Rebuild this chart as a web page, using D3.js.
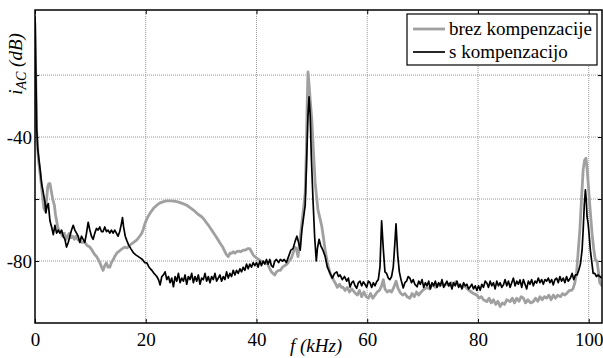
<!DOCTYPE html>
<html>
<head>
<meta charset="utf-8">
<script src="https://cdn.jsdelivr.net/npm/d3@7"></script>
<style>
  html, body { margin: 0; padding: 0; background: #fff; }
  svg { display: block; }
</style>
</head>
<body>
<div id="chart"></div>
<script>
// x ticks (kHz) and y grid (dB), only some y ticks carry a label
const xTicks = [0, 20, 40, 60, 80, 100];
const yGrid = [-20, -40, -60, -80];
const yLabels = [-40, -80];
const legendNames = ["brez kompenzacije", "s kompenzacijo"];

// brez kompenzacije  [f kHz, dB]
const brezData = [
  [0,-3],[0.15,-22],[0.3,-38],[0.6,-47],[1.0,-53],[1.3,-58],[1.6,-63],[1.9,-64],[2.1,-60],[2.3,-56],
  [2.5,-55],[2.7,-55],[2.9,-57],[3.2,-60],[3.5,-62],[3.7,-65],[3.9,-67],[4.1,-69],[4.4,-70.5],[4.7,-71],
  [5.0,-72],[5.3,-71],[5.6,-73],[5.9,-72],[6.2,-71],[6.5,-72.5],[6.8,-72],[7.1,-73],[7.4,-72],[7.7,-73],
  [8.1,-73.5],[8.5,-74],[9.0,-74],[9.4,-75],[9.9,-75.5],[10.3,-76.5],[10.8,-78],[11.1,-78.5],[11.4,-79.4],[11.7,-80.5],
  [12.0,-81.8],[12.3,-83],[12.6,-81.5],[12.9,-80.6],[13.2,-82],[13.5,-82],[13.8,-80.5],[14.1,-79.7],[14.4,-78.5],[14.8,-77.4],
  [15.1,-77],[15.4,-76.5],[15.8,-76],[16.2,-75.5],[16.6,-75.8],[17.2,-74.8],[17.8,-74],[18.4,-73.2],[18.9,-72],[19.3,-71],
  [19.6,-69.5],[19.9,-67.7],[20.3,-66],[20.8,-64.5],[21.4,-63],[22.0,-62],[22.5,-61.3],[23.1,-60.9],[23.7,-60.6],[24.4,-60.6],
  [25.1,-60.7],[25.8,-60.9],[26.6,-61.4],[27.4,-62],[28.2,-63],[28.9,-64],[29.5,-65],[30.1,-65.7],[30.7,-67],[31.3,-68.4],
  [31.9,-70],[32.5,-71.6],[33.0,-73],[33.4,-74.2],[33.9,-75.5],[34.3,-77],[34.6,-78],[34.9,-78.6],[35.2,-77.5],[35.5,-77.5],
  [35.8,-77],[36.1,-77.5],[36.4,-77],[36.8,-76.8],[37.2,-77],[37.6,-76.5],[38.0,-76.5],[38.4,-76],[38.8,-76],[39.1,-77],
  [39.4,-78],[39.7,-78.6],[40.0,-79],[40.4,-79.5],[40.8,-80],[41.2,-80.3],[41.6,-80.5],[42.0,-81],[42.4,-82.5],[42.7,-83.5],
  [43.0,-84],[43.3,-84.5],[43.6,-83.5],[44.0,-83],[44.3,-83],[44.7,-82],[45.1,-81.5],[45.5,-81],[45.9,-80],[46.3,-79],
  [46.6,-77.5],[46.9,-75.5],[47.2,-76],[47.5,-78.6],[47.8,-74],[48.2,-67.7],[48.5,-63],[48.8,-58],[49.0,-45],[49.15,-30],
  [49.3,-19],[49.45,-22],[49.7,-28],[50.0,-34.5],[50.3,-45],[50.6,-54.8],[50.9,-60],[51.1,-63.5],[51.5,-66.5],[51.8,-68.9],
  [52.1,-72.5],[52.4,-76.5],[52.8,-80.5],[53.3,-84],[53.7,-85.5],[54.2,-87],[54.6,-88.5],[55.0,-87.5],[55.3,-88.5],[55.6,-88.4],
  [56.0,-89.5],[56.4,-88.5],[56.8,-90],[57.2,-89],[57.8,-90.3],[58.2,-91],[58.6,-89.5],[59.0,-91.5],[59.4,-90],[59.8,-91.5],
  [60.2,-92],[60.6,-90.5],[61.0,-92],[61.4,-91],[61.8,-90],[62.2,-89.5],[62.6,-88],[62.9,-86],[63.2,-89],[63.6,-90],
  [64.0,-89.5],[64.4,-90],[64.8,-88.5],[65.2,-86.5],[65.6,-89],[66.0,-90.3],[66.4,-91],[66.8,-90.5],[67.2,-91.5],[67.7,-92],
  [68.1,-90.5],[68.5,-91.5],[68.9,-90],[69.3,-91],[69.6,-90.3],[70.0,-89.5],[70.4,-89],[70.8,-88.5],[71.2,-89],[71.6,-88],
  [71.9,-87.7],[72.3,-88.5],[72.7,-87.5],[73.1,-88],[73.5,-87],[73.9,-88],[74.4,-87.1],[74.8,-88],[75.2,-87],[75.6,-87.5],
  [76.0,-86.7],[76.4,-87.5],[76.8,-88],[77.2,-88.5],[77.6,-88],[78.0,-88.8],[78.4,-89.5],[78.8,-90],[79.2,-90.5],[79.8,-91],
  [80.2,-92],[80.6,-91.5],[81.0,-92.5],[81.6,-93.1],[82.0,-92],[82.4,-93.5],[82.8,-92.5],[83.2,-94],[83.6,-93],[84.0,-94.7],
  [84.4,-93.5],[84.8,-94],[85.2,-92.5],[85.8,-93.1],[86.2,-92],[86.6,-93.5],[87.0,-92],[87.4,-93],[87.8,-91.5],[88.2,-92],
  [88.6,-93.5],[89.0,-92.5],[89.5,-93.5],[90.0,-93.1],[90.4,-92],[90.8,-93],[91.2,-91.5],[91.6,-92.5],[92.0,-91.5],[92.4,-92],
  [92.8,-91],[93.2,-92.5],[93.6,-91],[94.0,-92],[94.4,-91],[94.9,-91.5],[95.3,-90.5],[95.7,-91],[96.1,-90.3],[96.5,-89.5],
  [96.9,-89.5],[97.2,-88.8],[97.5,-87],[97.8,-84],[98.1,-77],[98.4,-70],[98.7,-60],[99.0,-50.6],[99.25,-47.5],[99.5,-46.8],
  [99.7,-50],[99.9,-54.8],[100.2,-62],[100.6,-71],[100.9,-76],[101.2,-79.7],[101.5,-80],[101.8,-84],[102.0,-87],[102.4,-88]
];

// s kompenzacijo  [f kHz, dB]
const sData = [
  [0,-1],[0.15,-18],[0.3,-37],[0.5,-44],[0.7,-47],[0.9,-50],[1.2,-55],[1.5,-58],[1.8,-61],[1.95,-64.5],
  [2.2,-62],[2.4,-61.5],[2.7,-67],[3.0,-69],[3.3,-71.5],[3.6,-68.5],[3.9,-71],[4.2,-70],[4.5,-71],[4.8,-70],
  [5.1,-72],[5.4,-73],[5.7,-75.5],[6.0,-74],[6.3,-72],[6.6,-70],[6.9,-68.5],[7.2,-70],[7.5,-71],[7.8,-72],
  [8.1,-74],[8.4,-72],[8.7,-73],[9.0,-74],[9.3,-71],[9.6,-67.5],[9.9,-70],[10.2,-72],[10.5,-73],[10.8,-71],
  [11.1,-69.5],[11.4,-70],[11.7,-69],[12.0,-70.5],[12.3,-70.5],[12.6,-69],[12.9,-70.5],[13.2,-70],[13.5,-71],[13.8,-70],
  [14.1,-71],[14.4,-70],[14.7,-71],[15.0,-72],[15.3,-70.5],[15.6,-68],[15.8,-66],[16.0,-69],[16.3,-72],[16.6,-73.5],
  [16.9,-74.8],[17.3,-76],[17.8,-77.4],[18.2,-78],[18.6,-78.5],[19.0,-79],[19.4,-79.5],[19.8,-80.5],[20.2,-80.6],[20.6,-82],
  [21.1,-83],[21.5,-84],[22.0,-85],[22.3,-86],[22.6,-87.7],[22.9,-85],[23.2,-84.5],[23.5,-83.5],[23.8,-86],[24.1,-85],
  [24.4,-87],[24.7,-85.5],[25.0,-88.3],[25.3,-85],[25.6,-86.5],[25.9,-84],[26.2,-87],[26.5,-85.5],[26.8,-86.5],[27.1,-84.5],
  [27.4,-87.5],[27.7,-85],[28.0,-86],[28.3,-84],[28.6,-87],[28.9,-85],[29.2,-86.5],[29.5,-84.5],[29.8,-87.5],[30.1,-85.5],
  [30.4,-86],[30.7,-84],[31.0,-86.5],[31.3,-85],[31.6,-87],[31.9,-85],[32.2,-86],[32.5,-84],[32.8,-86.5],[33.1,-85.5],
  [33.4,-84.5],[33.7,-86.5],[34.0,-85],[34.3,-86],[34.6,-83.5],[34.9,-85.5],[35.2,-84],[35.5,-85],[35.8,-83],[36.1,-84.5],
  [36.4,-83],[36.7,-84],[37.0,-82.5],[37.3,-83.5],[37.6,-82],[37.9,-83],[38.2,-81],[38.5,-82.5],[38.8,-81],[39.1,-82],
  [39.4,-80.5],[39.7,-81.5],[40.0,-80.5],[40.3,-82],[40.6,-80],[40.9,-81.5],[41.2,-80],[41.5,-81],[41.8,-79.5],[42.1,-81],
  [42.4,-79.5],[42.7,-81.5],[43.0,-82],[43.3,-80],[43.6,-79.5],[44.0,-80.5],[44.3,-79.5],[44.7,-80],[45.0,-79.5],[45.4,-80.5],
  [45.8,-78.5],[46.2,-76.5],[46.6,-76],[47.0,-73.5],[47.3,-72],[47.6,-74],[47.9,-76.5],[48.2,-70],[48.5,-66],[48.8,-62],
  [49.1,-45],[49.3,-33],[49.5,-27],[49.7,-33],[49.9,-46],[50.2,-60],[50.5,-72],[50.8,-80],[51.0,-76],[51.3,-73],
  [51.6,-75],[52.0,-76.5],[52.4,-78.5],[52.8,-82],[53.3,-84],[53.7,-85.5],[54.1,-84],[54.5,-83.5],[54.8,-85],[55.1,-84.5],
  [55.5,-86],[55.9,-85],[56.3,-86.5],[56.6,-85.5],[56.9,-88.4],[57.2,-87],[57.5,-86.5],[57.8,-88],[58.1,-88.8],[58.4,-87],
  [58.7,-86.5],[59.0,-88],[59.3,-86.7],[59.6,-87.5],[59.9,-88.5],[60.2,-86.5],[60.5,-87],[60.8,-88.5],[61.1,-87],[61.4,-88],
  [61.7,-86.7],[62.0,-86],[62.3,-82],[62.6,-67],[62.9,-76],[63.2,-83.5],[63.5,-84],[63.8,-85.5],[64.1,-86],[64.4,-85],
  [64.7,-82],[65.0,-74],[65.2,-68],[65.5,-78],[65.8,-83.5],[66.1,-86],[66.5,-88.7],[66.8,-87],[67.1,-86.5],[67.4,-85],
  [67.7,-85.5],[68.0,-87],[68.3,-86],[68.6,-87.5],[69.0,-88.3],[69.3,-86.5],[69.6,-87.5],[69.9,-86],[70.2,-88.5],[70.5,-87],
  [70.8,-88],[71.1,-86.5],[71.4,-89],[71.7,-87],[72.0,-88],[72.3,-86.5],[72.6,-88.5],[72.9,-87],[73.2,-88],[73.5,-86],
  [73.8,-88.5],[74.1,-87.5],[74.4,-86.5],[74.7,-88],[75.0,-87],[75.3,-89],[75.6,-87],[75.9,-88],[76.2,-86.5],[76.5,-88.5],
  [76.8,-87.5],[77.1,-89],[77.4,-87],[77.7,-88],[78.0,-87.5],[78.3,-89],[78.6,-88.3],[78.9,-87.5],[79.2,-89],[79.5,-88],
  [79.8,-89.5],[80.1,-88],[80.4,-89.4],[80.7,-87.5],[81.0,-88.5],[81.3,-86.5],[81.6,-87.1],[81.9,-88.5],[82.2,-86.5],[82.5,-88],
  [82.8,-87],[83.1,-89],[83.4,-86.5],[83.7,-88],[84.0,-87],[84.3,-88.5],[84.6,-87.7],[84.9,-86],[85.2,-88],[85.5,-86.5],
  [85.8,-88.5],[86.1,-87],[86.4,-85.5],[86.7,-88],[87.0,-86.5],[87.3,-87.5],[87.6,-86.1],[87.9,-88.5],[88.2,-86],[88.5,-87.5],
  [88.8,-89],[89.1,-86.5],[89.4,-87.5],[89.7,-86],[90.0,-88],[90.3,-86.5],[90.6,-87.1],[90.9,-85.5],[91.2,-87],[91.5,-86],
  [91.8,-87.5],[92.1,-86],[92.4,-86.5],[92.7,-85.5],[93.0,-87],[93.3,-86],[93.6,-87.7],[93.9,-86],[94.2,-85.5],[94.5,-87],
  [94.8,-85],[95.1,-86.5],[95.4,-85.5],[95.7,-87],[96.0,-85],[96.3,-86.5],[96.7,-85.5],[97.0,-84],[97.3,-86],[97.6,-84.5],
  [97.9,-84.5],[98.2,-83],[98.5,-81],[98.8,-76.5],[99.0,-70],[99.2,-62],[99.4,-57],[99.55,-60],[99.7,-65.7],[99.9,-68],
  [100.1,-72],[100.3,-76.5],[100.6,-81],[100.8,-84],[101.1,-84],[101.4,-85],[101.7,-84.5],[102.0,-85],[102.4,-85.5]
];

const W = 603, H = 358;
const margin = {top: 10, right: 1, bottom: 35, left: 35};
const width = W - margin.left - margin.right,
      height = H - margin.top - margin.bottom;
const serif = "'Liberation Serif'";

const svg = d3.select("#chart").append("svg")
  .attr("width", W).attr("height", H);
const g = svg.append("g")
  .attr("transform", `translate(${margin.left},${margin.top})`);

const x = d3.scaleLinear().domain([0, 102.4]).range([0, width]);
const y = d3.scaleLinear().domain([-100, 1]).range([height, 0]);

// grid
g.append("g").selectAll("line").data(xTicks.filter(d => d > 0)).join("line")
  .attr("x1", d => x(d)).attr("x2", d => x(d))
  .attr("y1", 0).attr("y2", height)
  .attr("stroke", "#999").attr("stroke-width", 1).attr("stroke-dasharray", "1,1");
g.append("g").selectAll("line").data(yGrid).join("line")
  .attr("y1", d => y(d)).attr("y2", d => y(d))
  .attr("x1", 0).attr("x2", width)
  .attr("stroke", "#999").attr("stroke-width", 1).attr("stroke-dasharray", "1,1");

// axes: ticks point inward, frame drawn separately
const xb = g.append("g").attr("transform", `translate(0,${height})`)
  .call(d3.axisBottom(x).tickValues(xTicks).tickSizeInner(-4).tickSizeOuter(0).tickPadding(10));
const xt = g.append("g")
  .call(d3.axisTop(x).tickValues(xTicks).tickSizeInner(-4).tickSizeOuter(0).tickFormat(""));
const yl = g.append("g")
  .call(d3.axisLeft(y).tickValues(yGrid).tickSizeInner(-4).tickSizeOuter(0)
    .tickFormat(d => yLabels.includes(d) ? String(d) : "").tickPadding(3));
const yr = g.append("g").attr("transform", `translate(${width},0)`)
  .call(d3.axisRight(y).tickValues(yGrid).tickSizeInner(-4).tickSizeOuter(0).tickFormat(""));
[xb, xt, yl, yr].forEach(a => {
  a.select(".domain").remove();
  a.selectAll(".tick line").attr("stroke", "#000");
  a.selectAll("text").style("font-family", serif).attr("font-size", 19).attr("fill", "#000");
});

// lines
g.append("clipPath").attr("id", "clip").append("rect")
  .attr("width", width).attr("height", height);
const line = d3.line().x(d => x(d[0])).y(d => y(d[1]));
const plot = g.append("g").attr("clip-path", "url(#clip)");
plot.append("path").datum(brezData).attr("d", line)
  .attr("fill", "none").attr("stroke", "#a0a0a0").attr("stroke-width", 2.8).attr("stroke-linejoin", "round");
plot.append("path").datum(sData).attr("d", line)
  .attr("fill", "none").attr("stroke", "#000").attr("stroke-width", 1.7).attr("stroke-linejoin", "round");

// frame
g.append("rect").attr("width", width).attr("height", height)
  .attr("fill", "none").attr("stroke", "#000").attr("stroke-width", 1.5);

// legend
const lg = svg.append("g").attr("transform", "translate(407,14)");
lg.append("rect").attr("width", 190).attr("height", 51)
  .attr("fill", "#fff").attr("stroke", "#000").attr("stroke-width", 1.2);
const legColors = ["#a0a0a0", "#000"];
const legWidths = [2.8, 1.7];
legendNames.forEach((name, i) => {
  const yy = 15 + i * 23;
  lg.append("line").attr("x1", 6).attr("x2", 38).attr("y1", yy).attr("y2", yy)
    .attr("stroke", legColors[i]).attr("stroke-width", legWidths[i]);
  lg.append("text").attr("x", 42).attr("y", yy + 6)
    .style("font-family", serif).attr("font-size", 19).text(name);
});

// axis titles
svg.append("text").attr("x", 316).attr("y", 352).attr("text-anchor", "middle")
  .style("font-family", serif).attr("font-size", 19).style("font-style", "italic").text("f (kHz)");
const yt = svg.append("text").attr("transform", "translate(22,64) rotate(-90)")
  .attr("text-anchor", "middle").style("font-family", serif)
  .attr("font-size", 19).style("font-style", "italic");
yt.append("tspan").text("i");
yt.append("tspan").attr("font-size", 14).attr("dy", 4).text("AC");
yt.append("tspan").attr("dy", -4).text(" (dB)");
</script>
</body>
</html>
